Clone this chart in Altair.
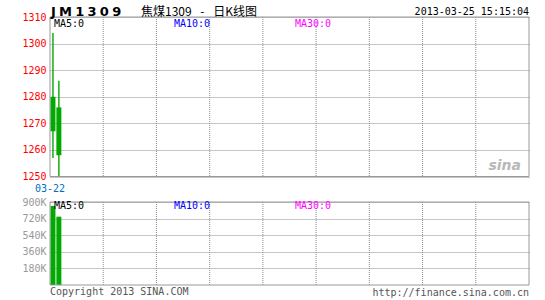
import altair as alt
import pandas as pd

# ---- data ----
dates = ["03-22", "03-25"]
opens = [1280, 1276]
highs = [1304, 1286]
lows = [1257, 1250]
closes = [1267, 1258]
volumes = [857000, 741000]

price_ticks = [1250, 1260, 1270, 1280, 1290, 1300, 1310]
volume_ticks = [180000, 360000, 540000, 720000, 900000]
x_grid = [9, 18, 27, 36, 45, 54, 63, 72]

symbol = "J\u2005M\u20051\u20053\u20050\u20059"
title_text = "焦煤1309 \u2002-\u2002 日K线图"
stamp = "2013-03-25 15:15:04"
ma_labels = ["MA5:0", "MA10:0", "MA30:0"]
ma_colors = ["#000000", "#0000ff", "#ff00ff"]

# ---- layout constants (pixels within the view) ----
W, H = 479, 268
PH = 159.5          # bottom of price panel
VT = 185            # top of volume panel
GREEN = "#00aa00"
GRID = "#8c8c8c"
MONO = "DejaVu Sans Mono"

df = pd.DataFrame(dict(i=list(range(len(dates))), date=dates, open=opens,
                       high=highs, low=lows, close=closes, volume=volumes))

xs = alt.Scale(domain=[0, 81], padding=0, nice=False, zero=False)
ps = alt.Scale(domain=[1250, 1310], range=[PH, 0], nice=False, zero=False)
vs = alt.Scale(domain=[0, 900000], range=[H, VT], nice=False)

price_axis = alt.Axis(orient="left", values=price_ticks, grid=True, gridColor=GRID,
                      gridDash=[1, 1], ticks=False, domain=False, labelColor="#ff0000",
                      labelFont=MONO, labelFontSize=10, labelPadding=4, title=None,
                      format="d")
vol_axis = alt.Axis(orient="left", values=volume_ticks, grid=True, gridColor=GRID,
                    gridDash=[1, 1], ticks=False, domain=False, labelColor="#999999",
                    labelFont=MONO, labelFontSize=10, labelPadding=4, title=None,
                    labelExpr="format(datum.value/1000, 'd') + 'K'")

base = alt.Chart(df).transform_calculate(xc="datum.i + 0.5")
X = alt.X("xc:Q", scale=xs, axis=None)

wick = base.mark_rule(color=GREEN, strokeWidth=1.4).encode(
    x=X, y=alt.Y("low:Q", scale=ps, axis=price_axis), y2="high:Q")
body = base.mark_bar(color=GREEN, size=5).encode(
    x=X, y=alt.Y("open:Q", scale=ps, axis=price_axis), y2="close:Q")
price_layer = alt.layer(wick, body)

vol = base.mark_bar(color=GREEN, size=5).encode(
    x=X, y=alt.Y("volume:Q", scale=vs, axis=vol_axis))

gdf = pd.DataFrame({"g": x_grid})
vgrid_top = alt.Chart(gdf).mark_rule(color=GRID, strokeDash=[1, 1]).encode(
    x=alt.X("g:Q", scale=xs, axis=None), y=alt.value(0), y2=alt.value(PH))
vgrid_bot = alt.Chart(gdf).mark_rule(color=GRID, strokeDash=[1, 1]).encode(
    x=alt.X("g:Q", scale=xs, axis=None), y=alt.value(VT), y2=alt.value(H))

one = pd.DataFrame({"a": [0]})


def border(y0, y1):
    return alt.Chart(one).mark_rect(fillOpacity=0, stroke="#999999", strokeWidth=1).encode(
        x=alt.value(0), x2=alt.value(W), y=alt.value(y0), y2=alt.value(y1))


def txt(text, x, y, color="#000000", size=10, font=MONO, align="left", weight="normal",
        style="normal"):
    return alt.Chart(one).mark_text(text=text, align=align, baseline="alphabetic",
                                    color=color, fontSize=size, font=font,
                                    fontWeight=weight, fontStyle=style).encode(
        x=alt.value(x), y=alt.value(y))


date_label = base.transform_filter("datum.i == 0").mark_text(
    align="center", baseline="alphabetic", color="#0070c0", fontSize=10, font=MONO).encode(
    x=alt.X("i:Q", scale=xs, axis=None), y=alt.value(174.5), text="date:N")

ma_pos_x = [4, 124, 245]
texts = [
    txt(symbol, 1, -1, size=13, font="DejaVu Sans", weight="bold"),
    txt(title_text, 91, -1, size=12, font="Noto Sans CJK SC"),
    txt(stamp, W, -2, align="right"),
    txt("Copyright 2013 SINA.COM", 0, 278, color="#555555"),
    txt("http://finance.sina.com.cn", W, 279, color="#555555", align="right"),
    txt("sina", 471, 153, color="#b8b8b8", size=14, font="DejaVu Sans", weight="bold",
        style="italic", align="right"),
]
for lab, col, px in zip(ma_labels, ma_colors, ma_pos_x):
    texts.append(txt(lab, px, 10, color=col))
    texts.append(txt(lab, px, 192, color=col))

chart = alt.layer(
    vgrid_top, vgrid_bot, price_layer, vol, border(0, PH), border(VT, H), date_label, *texts
).resolve_scale(y="independent").properties(
    width=W, height=H,
    autosize=alt.AutoSizeParams(type="none"),
    padding={"left": 50, "top": 17, "right": 16, "bottom": 15},
    background="white",
).configure_view(strokeWidth=0)

chart.save("out.html", embed_options={"renderer": "svg", "actions": False})
